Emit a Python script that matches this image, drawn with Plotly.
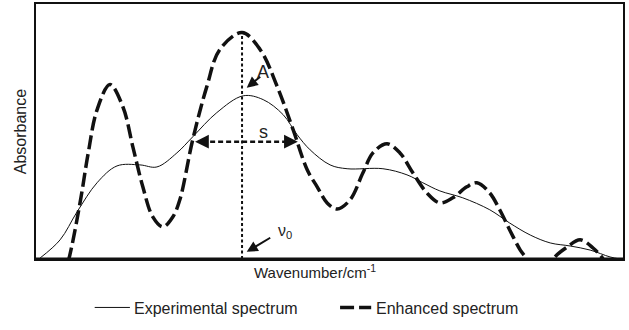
import plotly.graph_objects as go

# Experimental (measured) absorbance spectrum, arbitrary wavenumber units
exp_wavenumber = [0.7, 4.1, 7.0, 10.4, 13.8, 17.7, 20.6, 24.0, 26.7, 30.8, 35.3, 38.7,
                  42.1, 44.5, 46.7, 50.1, 53.0, 59.1, 63.2, 65.9, 68.8, 72.7, 77.3,
                  80.7, 84.2, 87.6, 91.0, 94.4, 97.8, 99.5]
exp_absorbance = [0.4, 7.5, 18.5, 29.9, 36.5, 36.9, 36.1, 41.6, 47.9, 57.4, 64.0, 62.5,
                  56.6, 48.7, 42.8, 36.9, 35.4, 35.4, 33.0, 29.9, 26.7, 24.0, 19.3,
                  14.1, 9.4, 6.3, 5.1, 3.5, 0.8, 0.0]

# Resolution-enhanced spectrum (dips below zero are clipped by the axis)
enh_wavenumber = [4.5, 5.6, 7.5, 8.9, 10.4, 12.6, 14.8, 16.5, 18.2, 19.9, 21.6, 23.3,
                  24.5, 26.7, 29.1, 31.3, 35.1, 38.2, 41.1, 43.8, 46.2, 47.9, 49.6,
                  51.3, 53.5, 55.7, 57.4, 59.8, 62.0, 64.2, 66.6, 68.8, 71.0, 73.4,
                  75.1, 77.3, 79.0, 80.7, 82.5, 83.6, 84.7, 85.9, 87.0, 88.1, 90.5,
                  92.7, 94.9, 96.6, 97.8]
enh_absorbance = [-8.0, 0.0, 22.0, 41.6, 58.5, 68.4, 59.7, 44.0, 28.3, 16.5, 12.6, 16.5,
                  23.2, 46.8, 67.6, 82.1, 88.8, 82.1, 67.6, 50.7, 35.0, 28.3, 22.0,
                  19.6, 23.2, 33.8, 41.6, 45.2, 41.6, 33.8, 25.9, 22.0, 24.0, 28.3,
                  29.9, 25.9, 19.3, 11.4, 3.5, 0.0, -6.0, -9.0, -6.0, 0.0, 4.7,
                  7.5, 4.3, 0.0, -6.0]

# Band parameters of the central peak
nu0 = 35.1            # band position
peak_height = 88.8    # enhanced peak maximum
width_level = 46.0    # level at which the width s is marked
width_left, width_right = 27.1, 44.6

series_names = ["Experimental spectrum", "Enhanced spectrum"]

ink = "#111111"
font = dict(family="Liberation Sans, Arial, sans-serif", size=16, color="#222222")
enh_dash = "14px,5px"

fig = go.Figure()

fig.add_trace(go.Scatter(
    x=exp_wavenumber, y=exp_absorbance, mode="lines", name=series_names[0],
    line=dict(color=ink, width=1, shape="spline", smoothing=1.0),
))
fig.add_trace(go.Scatter(
    x=enh_wavenumber, y=enh_absorbance, mode="lines", name=series_names[1],
    line=dict(color=ink, width=3.5, shape="spline", smoothing=1.0, dash=enh_dash),
))

# vertical marker at band position
fig.add_trace(go.Scatter(
    x=[nu0, nu0], y=[0, peak_height], mode="lines",
    line=dict(color=ink, width=2, dash="3px,2.5px"), hoverinfo="skip",
))
# horizontal width marker
fig.add_trace(go.Scatter(
    x=[width_left + 1.2, width_right - 1.2], y=[width_level, width_level], mode="lines",
    line=dict(color=ink, width=2.5, dash="5px,3px"), hoverinfo="skip",
))

annotations = [
    # arrowheads at the ends of the width marker
    dict(x=width_left, y=width_level, ax=12, ay=0, text="", showarrow=True,
         arrowhead=2, arrowsize=1.1, arrowwidth=2.5, arrowcolor=ink),
    dict(x=width_right, y=width_level, ax=-12, ay=0, text="", showarrow=True,
         arrowhead=2, arrowsize=1.1, arrowwidth=2.5, arrowcolor=ink),
    # amplitude pointer
    dict(x=35.9, y=67.2, ax=15, ay=-12, text="", showarrow=True,
         arrowhead=2, arrowsize=1.1, arrowwidth=2, arrowcolor=ink),
    dict(x=38.7, y=73.5, text="A", showarrow=False, font=dict(font, size=18)),
    dict(x=38.7, y=50.0, text="s", showarrow=False, font=dict(font, size=18)),
    # band position pointer
    dict(x=35.9, y=2.8, ax=25, ay=-15, text="", showarrow=True,
         arrowhead=2, arrowsize=1.1, arrowwidth=2, arrowcolor=ink),
    dict(x=42.4, y=10.6, text="ν<sub>0</sub>", showarrow=False, font=dict(font, size=16)),
    # axis titles
    dict(xref="paper", yref="paper", x=0.475, y=-0.05, text="Wavenumber/cm<sup>-1</sup>",
         showarrow=False, xanchor="center", yanchor="middle", font=dict(font, size=15)),
    dict(xref="paper", yref="paper", x=-0.026, y=0.5, text="Absorbance", textangle=-90,
         showarrow=False, xanchor="center", yanchor="middle", font=font),
    # legend labels
    dict(xref="paper", yref="paper", x=0.164, y=-0.194, text=series_names[0],
         showarrow=False, xanchor="left", yanchor="middle", font=font),
    dict(xref="paper", yref="paper", x=0.575, y=-0.194, text=series_names[1],
         showarrow=False, xanchor="left", yanchor="middle", font=font),
]

shapes = [
    # heavier baseline
    dict(type="line", xref="paper", yref="paper", x0=0, x1=1, y0=0, y1=0,
         line=dict(color=ink, width=3)),
    # legend keys
    dict(type="line", xref="paper", yref="paper", x0=0.10, x1=0.16, y0=-0.19, y1=-0.19,
         line=dict(color=ink, width=1)),
    dict(type="line", xref="paper", yref="paper", x0=0.518, x1=0.571, y0=-0.19, y1=-0.19,
         line=dict(color=ink, width=3.5, dash="14px,5px")),
]

fig.update_layout(
    width=629, height=330,
    margin=dict(l=36, r=6, t=4, b=71, autoexpand=False),
    paper_bgcolor="white", plot_bgcolor="white",
    font=font,
    annotations=annotations,
    shapes=shapes,
    showlegend=False,
    xaxis=dict(range=[0, 100], showgrid=False, zeroline=False, showticklabels=False,
               ticks="", showline=True, mirror=True, linecolor=ink, linewidth=1.5),
    yaxis=dict(range=[0, 100], showgrid=False, zeroline=False, showticklabels=False,
               ticks="", showline=True, mirror=True, linecolor=ink, linewidth=1.5),
)

fig.write_html("out.html")
